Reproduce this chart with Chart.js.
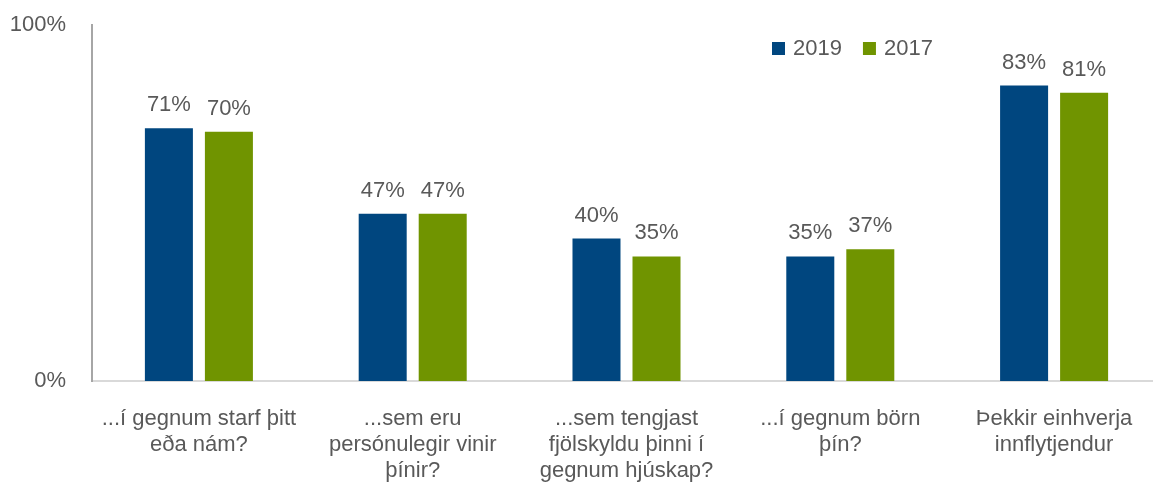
<!DOCTYPE html>
<html>
<head>
<meta charset="utf-8">
<script src="https://cdn.jsdelivr.net/npm/chart.js@4/dist/chart.umd.min.js"></script>
<style>
  html, body { margin: 0; padding: 0; background: #fff; overflow: hidden; }
  #wrap { width: 1163px; height: 495px; }
</style>
</head>
<body>
<div id="wrap"><canvas id="chart"></canvas></div>
<script>
// data
var categories = [
    ['...í gegnum starf þitt', 'eða nám?'],
    ['...sem eru', 'persónulegir vinir', 'þínir?'],
    ['...sem tengjast', 'fjölskyldu þinni í', 'gegnum hjúskap?'],
    ['...í gegnum börn', 'þín?'],
    ['Þekkir einhverja', 'innflytjendur']
];
var values2019 = [71, 47, 40, 35, 83];
var values2017 = [70, 47, 35, 37, 81];
var seriesNames = ['2019', '2017'];
var seriesColors = ['#00467F', '#709400'];

var textColor = '#595959';
var fontFamily = '"Liberation Sans", Arial, sans-serif';

// value labels above the bars
var barLabels = {
    id: 'barLabels',
    afterDatasetsDraw: function(chart) {
        var ctx = chart.ctx;
        ctx.save();
        ctx.font = '22px ' + fontFamily;
        ctx.fillStyle = textColor;
        ctx.textAlign = 'center';
        ctx.textBaseline = 'alphabetic';
        chart.data.datasets.forEach(function(ds, i) {
            chart.getDatasetMeta(i).data.forEach(function(bar, j) {
                ctx.fillText(ds.data[j] + '%', bar.x, bar.y - 17);
            });
        });
        ctx.restore();
    }
};

// small legend inside the plot, top right
var smallLegend = {
    id: 'smallLegend',
    afterDraw: function(chart) {
        var ctx = chart.ctx;
        ctx.save();
        ctx.font = '22px ' + fontFamily;
        ctx.textBaseline = 'middle';
        var x = 772, y = 48;
        chart.data.datasets.forEach(function(ds) {
            ctx.fillStyle = ds.backgroundColor;
            ctx.fillRect(x, y - 6, 13, 13);
            ctx.fillStyle = textColor;
            ctx.fillText(ds.label, x + 21, y + 1);
            x += 21 + ctx.measureText(ds.label).width + 21;
        });
        ctx.restore();
    }
};

var ctx = document.getElementById('chart');
var myChart = new Chart(ctx, {
    type: 'bar',
    data: {
        labels: categories,
        datasets: [
            { label: seriesNames[0], data: values2019, backgroundColor: seriesColors[0] },
            { label: seriesNames[1], data: values2017, backgroundColor: seriesColors[1] }
        ]
    },
    options: {
        responsive: true,
        maintainAspectRatio: false,
        animation: false,
        categoryPercentage: 0.5614,
        barPercentage: 0.8,
        layout: { padding: { top: 25, left: 10, right: 2, bottom: 0 } },
        plugins: {
            legend: { display: false },
            tooltip: { enabled: false }
        },
        scales: {
            x: {
                grid: { display: false, drawTicks: false },
                border: { color: '#D9D9D9', width: 2 },
                ticks: {
                    color: textColor,
                    padding: 25,
                    maxRotation: 0,
                    autoSkip: false,
                    font: { family: fontFamily, size: 22, lineHeight: 1.18 }
                },
                afterFit: function(scale) {
                    scale.paddingLeft = 0;
                    scale.paddingRight = 0;
                    scale.height = 114;
                }
            },
            y: {
                min: 0,
                max: 100,
                grid: { display: false, drawTicks: false },
                border: { color: '#A6A6A6', width: 2 },
                ticks: {
                    stepSize: 100,
                    color: textColor,
                    padding: 26,
                    font: { family: fontFamily, size: 22 },
                    callback: function(v) { return v + '%'; }
                },
                afterFit: function(scale) {
                    scale.paddingTop = 0;
                    scale.paddingBottom = 0;
                    scale.width = 82;
                }
            }
        }
    },
    plugins: [barLabels, smallLegend]
});
</script>
</body>
</html>
